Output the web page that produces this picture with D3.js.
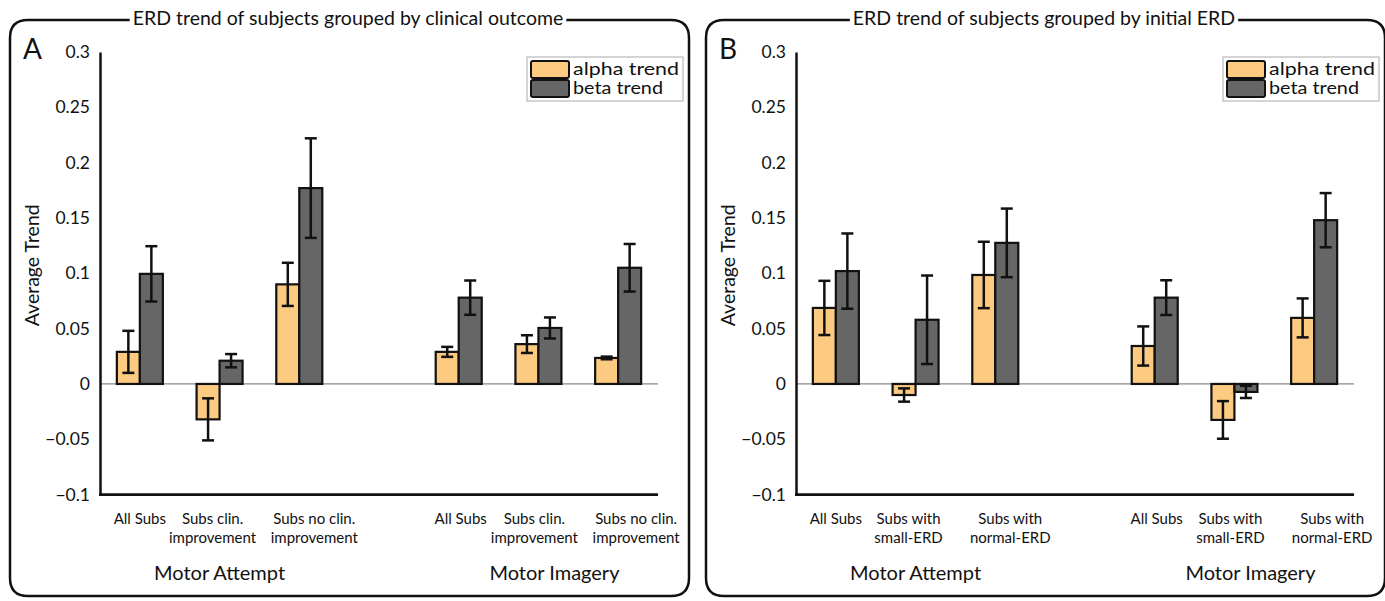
<!DOCTYPE html>
<html>
<head>
<meta charset="utf-8">
<script src="https://cdn.jsdelivr.net/npm/d3@7"></script>
<style>
  body { margin: 0; background: #fff; }
  text { font-family: Lato, "Open Sans", sans-serif; fill: #111; }
</style>
</head>
<body>
<script>
let width = 1385, height = 601;

// data
const conditions = ["Motor Attempt", "Motor Imagery"];
const series = ["alpha trend", "beta trend"];
const subgroupsA = [["All Subs"], ["Subs clin.", "improvement"], ["Subs no clin.", "improvement"]];
const subgroupsB = [["All Subs"], ["Subs with", "small-ERD"], ["Subs with", "normal-ERD"]];

// 6 bars per series: MA x3, MI x3
const alphaA    = [0.029, -0.032, 0.090, 0.029, 0.036, 0.0235];
const alphaErrA = [0.019, 0.019, 0.0195, 0.0045, 0.008, 0.0012];
const betaA     = [0.0995, 0.021, 0.177, 0.078, 0.0506, 0.105];
const betaErrA  = [0.025, 0.006, 0.045, 0.0155, 0.0095, 0.0215];

const alphaB    = [0.0687, -0.010, 0.0985, 0.0343, -0.0325, 0.0597];
const alphaErrB = [0.0245, 0.006, 0.030, 0.0177, 0.017, 0.0176];
const betaB     = [0.102, 0.058, 0.1275, 0.078, -0.0072, 0.148];
const betaErrB  = [0.034, 0.040, 0.031, 0.0157, 0.0055, 0.0245];

const yTicks = [-0.1, -0.05, 0, 0.05, 0.1, 0.15, 0.2, 0.25, 0.3];

const colors = ["#FDCA82", "#666666"];
// label nudges so the two-line labels don't collide (layout only)
const labelShift = [0, -7, 15, 2, -4, 18];

const svg = d3.select("body").append("svg")
  .attr("width", width).attr("height", height);

function drawPanel(ox, letter, title, subgroups, alpha, alphaErr, beta, betaErr) {
  const g = svg.append("g").attr("transform", `translate(${ox},0)`);

  const slots = ["0", "1", "2", "gap", "3", "4", "5"];
  const x = d3.scaleBand().domain(slots).range([100, 658]);
  const xs = d3.scaleBand().domain(series).range([-23, 23]);
  const y = d3.scaleLinear().domain([-0.1, 0.3]).range([494.6, 52]);

  const cx = 348, L = 10, R = 689, T = 20, B = 596, r = 18;
  const titleText = g.append("text").attr("x", cx).attr("y", 25).attr("text-anchor", "middle")
    .style("font-size", "19.5px").text(title);
  const tw = titleText.node().getComputedTextLength();

  // frame with gap for title
  g.insert("path", "text")
    .attr("d", `M${cx - tw / 2 - 3},${T} H${L + r} Q${L},${T} ${L},${T + r} V${B - r} Q${L},${B} ${L + r},${B}
                H${R - r} Q${R},${B} ${R},${B - r} V${T + r} Q${R},${T} ${R - r},${T} H${cx + tw / 2 + 3}`)
    .attr("fill", "none").attr("stroke", "#111").attr("stroke-width", 2.5);

  g.append("text").attr("x", 23).attr("y", 59).style("font-size", "28px").text(letter);

  // zero line
  g.append("line").attr("x1", 100).attr("x2", 658).attr("y1", y(0)).attr("y2", y(0))
    .attr("stroke", "#888").attr("stroke-width", 1.2);

  const barSlots = slots.filter(s => s !== "gap");
  const rows = [];
  alpha.forEach((v, i) => {
    rows.push({ slot: barSlots[i], s: series[0], v: v, e: alphaErr[i] });
    rows.push({ slot: barSlots[i], s: series[1], v: beta[i], e: betaErr[i] });
  });

  const bx = d => x(d.slot) + x.bandwidth() / 2 + xs(d.s);

  g.selectAll(".bar").data(rows).enter().append("rect")
    .attr("class", "bar")
    .attr("x", bx)
    .attr("width", xs.bandwidth())
    .attr("y", d => y(Math.max(0, d.v)))
    .attr("height", d => Math.abs(y(d.v) - y(0)))
    .attr("fill", d => colors[series.indexOf(d.s)])
    .attr("stroke", "#111").attr("stroke-width", 2.2);

  const err = g.selectAll(".err").data(rows).enter().append("g").attr("class", "err")
    .attr("transform", d => `translate(${bx(d) + xs.bandwidth() / 2},0)`);
  err.append("line").attr("y1", d => y(d.v + d.e)).attr("y2", d => y(d.v - d.e))
    .attr("stroke", "#111").attr("stroke-width", 2.5);
  err.append("line").attr("x1", -6).attr("x2", 6).attr("y1", d => y(d.v + d.e)).attr("y2", d => y(d.v + d.e))
    .attr("stroke", "#111").attr("stroke-width", 2.5);
  err.append("line").attr("x1", -6).attr("x2", 6).attr("y1", d => y(d.v - d.e)).attr("y2", d => y(d.v - d.e))
    .attr("stroke", "#111").attr("stroke-width", 2.5);

  // axes
  const yAxis = d3.axisLeft(y).tickValues(yTicks).tickSize(0).tickPadding(10)
    .tickFormat(d3.format("~g"));
  const ya = g.append("g").attr("transform", "translate(100,0)").call(yAxis);
  ya.select(".domain").attr("stroke", "#111").attr("stroke-width", 2.5);
  ya.selectAll("text").style("font-size", "17.5px").style("font-family", "Lato, sans-serif").attr("fill", "#111");

  g.append("line").attr("x1", 99).attr("x2", 658).attr("y1", y(-0.1)).attr("y2", y(-0.1))
    .attr("stroke", "#111").attr("stroke-width", 2.8);

  g.append("text").attr("transform", `translate(39,${y(0.1) - 8}) rotate(-90)`)
    .attr("text-anchor", "middle").style("font-size", "19.5px").text("Average Trend");

  // category labels
  barSlots.forEach((s, i) => {
    const lines = subgroups[i % 3];
    const px = x(s) + x.bandwidth() / 2 + labelShift[i];
    const t = g.append("text").attr("text-anchor", "middle").attr("y", 524)
      .style("font-size", "15px");
    lines.forEach((ln, k) => t.append("tspan").attr("x", px).attr("dy", k ? 19 : 0).text(ln));
  });

  conditions.forEach((c, i) => {
    const mid = (x(barSlots[i * 3]) + x(barSlots[i * 3 + 2]) + x.bandwidth()) / 2;
    g.append("text").attr("x", mid + (i ? 16 : 0)).attr("y", 580).attr("text-anchor", "middle")
      .style("font-size", "20px").text(c);
  });

  // legend
  const lg = g.append("g").attr("transform", "translate(527,57)");
  lg.append("rect").attr("width", 156).attr("height", 44).attr("fill", "#fff")
    .attr("stroke", "#aaa").attr("stroke-width", 1);
  series.forEach((s, i) => {
    lg.append("rect").attr("x", 4).attr("y", 4 + i * 19).attr("width", 38).attr("height", 17)
      .attr("rx", 2).attr("fill", colors[i]).attr("stroke", "#111").attr("stroke-width", 2);
    lg.append("text").attr("x", 46).attr("y", 18 + i * 19).style("font-size", "16.5px")
      .attr("textLength", i ? 90 : 106).attr("lengthAdjust", "spacingAndGlyphs").text(s);
  });
}

drawPanel(0, "A", "ERD trend of subjects grouped by clinical outcome", subgroupsA, alphaA, alphaErrA, betaA, betaErrA);
drawPanel(696, "B", "ERD trend of subjects grouped by initial ERD", subgroupsB, alphaB, alphaErrB, betaB, betaErrB);
</script>
</body>
</html>
